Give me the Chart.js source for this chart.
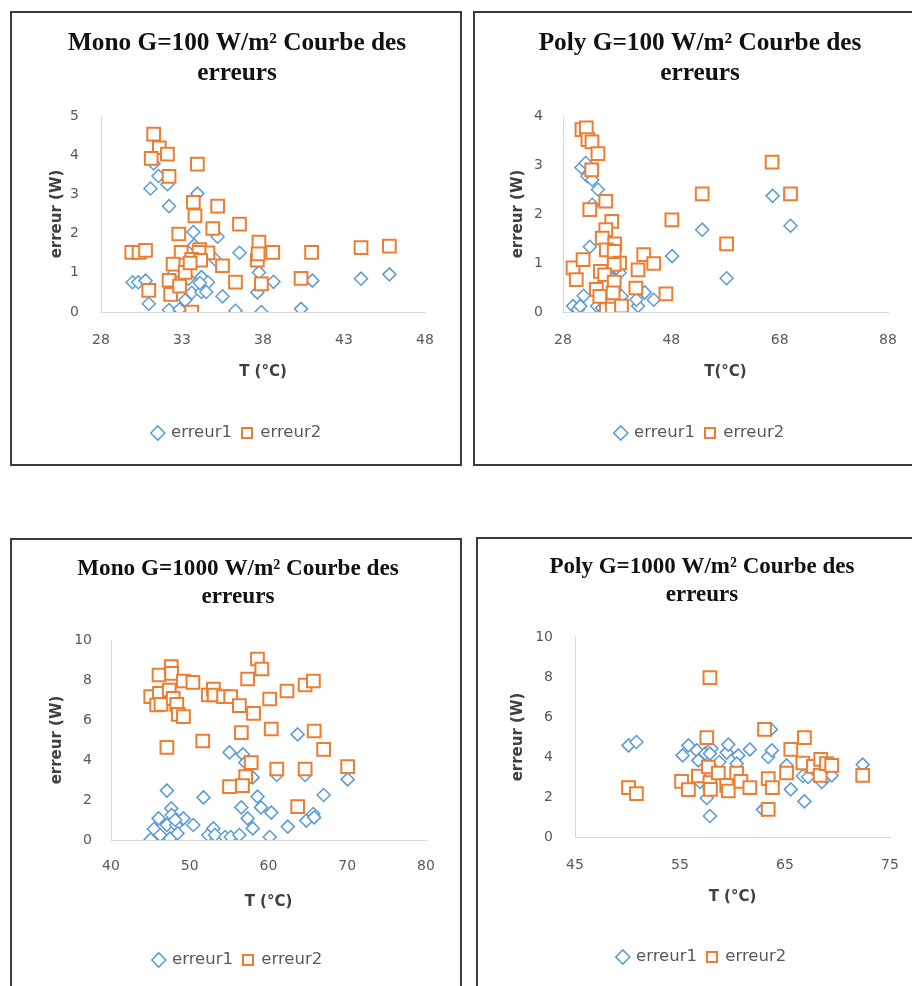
<!DOCTYPE html>
<html>
<head>
<meta charset="utf-8">
<script src="https://cdn.jsdelivr.net/npm/chart.js@4"></script>
<style>
  body { margin: 0; background: #fff; width: 912px; height: 986px; overflow: hidden; position: relative; }
  .box { position: absolute; border: 2px solid #3c3c3c; width: 448px; height: 451px; background: #fff; }
  canvas { display: block; }
</style>
</head>
<body>
<div class="box" style="left:10px; top:11px;"><canvas id="c1" width="448" height="451"></canvas></div>
<div class="box" style="left:473px; top:11px;"><canvas id="c2" width="448" height="451"></canvas></div>
<div class="box" style="left:10px; top:538px;"><canvas id="c3" width="448" height="451"></canvas></div>
<div class="box" style="left:476px; top:537px;"><canvas id="c4" width="448" height="451"></canvas></div>

<script>
// Mono G=100
const mono100_T1 = [31.25, 31.55, 32.1, 31.05, 32.2, 33.95, 33.7, 35.2, 36.55, 33.75, 29.95, 30.3, 30.75, 30.95, 32.2, 32.85, 33.2, 33.6, 34.2, 34.6, 34.2, 34.5, 34.1, 35.5, 36.3, 37.9, 37.65, 37.75, 38.65, 41.05, 40.35, 44.05, 45.8, 35.05, 32.5, 33.4];
const mono100_E1 = [3.79, 3.47, 3.26, 3.15, 2.70, 3.02, 2.04, 1.92, 1.51, 1.70, 0.76, 0.76, 0.80, 0.21, 0.05, 0.07, 0.30, 0.49, 0.89, 0.76, 0.51, 0.51, 0.74, 0.40, 0.03, 0.0, 0.50, 1.01, 0.77, 0.80, 0.08, 0.85, 0.96, 1.34, 0.98, 0.85];
const mono100_T2 = [31.25, 31.6, 32.1, 31.1, 33.95, 32.2, 33.7, 33.8, 35.2, 34.9, 36.55, 32.8, 37.75, 29.9, 30.35, 30.75, 32.95, 34.1, 34.6, 34.05, 33.6, 34.15, 32.45, 35.5, 37.65, 37.7, 38.6, 41.0, 44.05, 45.8, 33.2, 32.2, 30.95, 32.3, 32.85, 36.3, 37.9, 40.35, 33.6, 33.5];
const mono100_E2 = [4.54, 4.19, 4.03, 3.92, 3.77, 3.46, 2.80, 2.45, 2.70, 2.13, 2.24, 1.99, 1.78, 1.52, 1.52, 1.57, 1.52, 1.59, 1.51, 1.52, 1.34, 1.32, 1.22, 1.18, 1.32, 1.48, 1.52, 1.52, 1.64, 1.68, 1.01, 0.81, 0.55, 0.45, 0.66, 0.76, 0.72, 0.86, 0.0, 1.25];

// Poly G=100
const poly100_T1 = [31.4, 32.2, 32.5, 33.4, 34.45, 33.4, 32.95, 29.85, 30.75, 31.2, 31.8, 34.3, 35.25, 37.55, 38.45, 38.8, 41.85, 41.55, 43.1, 44.75, 48.15, 53.7, 58.2, 66.7, 70.0, 36.6, 37.85];
const poly100_E1 = [2.95, 3.04, 2.77, 2.70, 2.50, 2.19, 1.33, 0.12, 0.05, 0.12, 0.33, 0.12, 0.08, 0.46, 0.80, 0.32, 0.12, 0.25, 0.40, 0.25, 1.14, 1.68, 0.69, 2.37, 1.76, 0.73, 0.90];
const poly100_T2 = [31.5, 32.3, 32.6, 33.35, 34.45, 33.3, 35.9, 32.95, 37.0, 35.9, 35.25, 37.55, 36.0, 37.45, 29.85, 31.7, 30.45, 38.45, 37.45, 34.9, 35.7, 37.45, 34.15, 34.8, 37.25, 36.0, 37.1, 38.8, 41.45, 41.85, 42.9, 44.75, 47.0, 48.1, 53.7, 58.2, 66.6, 70.0];
const poly100_E2 = [3.72, 3.76, 3.52, 3.47, 3.23, 2.90, 2.26, 2.09, 1.85, 1.68, 1.51, 1.39, 1.27, 1.24, 0.90, 1.07, 0.66, 1.0, 0.97, 0.83, 0.76, 0.61, 0.46, 0.32, 0.39, 0.05, 0.06, 0.12, 0.49, 0.86, 1.17, 0.99, 0.37, 1.88, 2.41, 1.39, 3.06, 2.41];

// Mono G=1000
const mono1000_T1 = [45.05, 45.45, 46.05, 46.25, 47.1, 47.65, 47.7, 47.5, 47.1, 48.25, 48.45, 49.2, 48.15, 50.45, 51.75, 52.35, 53.0, 53.2, 54.5, 55.2, 56.3, 55.05, 56.75, 57.05, 58.0, 56.55, 57.35, 58.0, 58.6, 59.05, 60.35, 60.15, 62.45, 61.05, 63.7, 64.65, 64.8, 65.7, 65.8, 67.0, 70.05];
const mono1000_E1 = [0.03, 0.55, 1.08, 0.25, 2.47, 1.58, 1.25, 0.08, 0.75, 0.75, 0.33, 1.08, 1.0, 0.75, 2.13, 0.25, 0.58, 0.25, 0.15, 0.15, 0.25, 4.38, 4.28, 3.87, 3.13, 1.63, 1.08, 0.58, 2.17, 1.63, 1.37, 0.15, 0.67, 3.25, 5.28, 3.25, 0.97, 1.30, 1.13, 2.25, 3.03];
const mono1000_T2 = [45.05, 46.1, 47.65, 47.7, 46.15, 45.8, 46.35, 47.4, 47.9, 48.35, 48.55, 49.2, 49.2, 50.4, 47.1, 51.65, 52.35, 53.0, 53.1, 54.3, 55.2, 56.3, 58.1, 57.35, 58.6, 59.15, 60.15, 56.55, 60.35, 57.8, 57.1, 56.7, 55.05, 61.05, 62.35, 64.65, 65.7, 65.8, 67.0, 64.65, 63.7, 70.05];
const mono1000_E2 = [7.17, 8.25, 8.67, 8.33, 7.33, 6.75, 6.78, 7.5, 7.08, 6.78, 6.28, 6.17, 7.95, 7.88, 4.63, 4.95, 7.25, 7.55, 7.25, 7.17, 7.17, 6.72, 6.33, 8.05, 9.05, 8.55, 7.05, 5.37, 5.55, 3.87, 3.17, 2.72, 2.67, 3.55, 7.45, 7.75, 7.95, 5.45, 4.53, 3.55, 1.67, 3.67];

// Poly G=1000
const poly1000_T1 = [50.1, 50.85, 55.25, 55.8, 56.6, 56.75, 57.4, 58.0, 57.85, 58.75, 59.45, 59.6, 60.55, 60.4, 61.65, 57.55, 57.85, 56.9, 62.9, 63.4, 63.75, 63.65, 65.15, 65.55, 66.7, 66.85, 67.2, 68.5, 68.95, 69.45, 72.4];
const poly1000_E1 = [4.58, 4.75, 4.08, 4.58, 4.33, 3.83, 4.17, 4.42, 4.17, 3.75, 4.22, 4.62, 4.08, 3.67, 4.38, 1.95, 1.05, 2.75, 1.37, 4.0, 4.33, 5.38, 3.58, 2.38, 3.05, 1.78, 3.0, 2.75, 3.0, 3.08, 3.62];
const poly1000_T2 = [50.1, 50.85, 57.85, 57.55, 55.15, 55.8, 56.75, 57.7, 57.85, 57.9, 58.65, 59.45, 59.6, 60.4, 60.8, 61.65, 63.05, 63.4, 63.8, 63.4, 65.15, 65.55, 66.85, 66.7, 67.7, 68.4, 68.35, 68.95, 69.45, 72.4];
const poly1000_E2 = [2.47, 2.17, 7.97, 4.97, 2.78, 2.37, 3.05, 3.5, 2.72, 2.38, 3.2, 2.58, 2.3, 3.2, 2.78, 2.47, 5.38, 2.92, 2.47, 1.38, 3.2, 4.38, 4.97, 3.7, 3.53, 3.88, 3.08, 3.67, 3.58, 3.08];

const legendLabels = ['erreur1', 'erreur2'];
const yTitle = 'erreur (W)';

const AXIS_LH = 15;       // 15px * 1.0
const LEG_FONT = 16.5;
const LEG_PAD = 10;

function pontos(T, E) {
    return T.map((t, i) => ({ x: t, y: E[i] }));
}

// g = posições alvo em px dentro do canvas
function plotarErreurs(id, titulo, xTitle, xEixo, yEixo, T1, E1, T2, E2, g) {
    const canvas = document.getElementById(id);
    const W = canvas.width, H = canvas.height;
    const padRight = W - g.right;
    // centra título e legenda em g.center
    const padLeft = 2 * g.center - W + padRight;
    const legendTop = g.legendY - LEG_FONT / 2 - LEG_PAD;
    const padBottom = H - (g.legendY + 10 + LEG_FONT / 2);
    const titleLH = g.titleSize * 1.2;
    const titleTop = g.title1Y - titleLH / 2;

    new Chart(canvas.getContext('2d'), {
        type: 'scatter',
        data: {
            datasets: [{
                label: legendLabels[0],
                data: pontos(T1, E1),
                pointStyle: 'rectRot',
                pointRadius: 6.5,
                pointHoverRadius: 6.5,
                borderColor: '#5B9BD5',
                backgroundColor: '#ffffff',
                pointBorderWidth: 1.5,
                order: 1
            }, {
                label: legendLabels[1],
                data: pontos(T2, E2),
                pointStyle: 'rect',
                pointRadius: 9,
                pointHoverRadius: 9,
                borderColor: '#ED7D31',
                backgroundColor: '#ffffff',
                pointBorderWidth: 2,
                order: 0
            }]
        },
        options: {
            responsive: false,
            animation: false,
            layout: { padding: { left: padLeft, top: 0, right: padRight, bottom: padBottom } },
            plugins: {
                title: {
                    display: true,
                    text: titulo,
                    color: '#111',
                    font: { family: 'Liberation Serif', size: g.titleSize, weight: 'bold', lineHeight: 1.2 },
                    padding: { top: titleTop, bottom: g.top - titleTop - 2 * titleLH }
                },
                legend: {
                    position: 'bottom',
                    labels: {
                        usePointStyle: true,
                        boxWidth: 10,
                        boxHeight: 10,
                        padding: LEG_PAD,
                        color: '#595959',
                        font: { family: 'DejaVu Sans', size: LEG_FONT },
                        sort: (a, b) => a.datasetIndex - b.datasetIndex
                    }
                },
                tooltip: { enabled: false }
            },
            scales: {
                x: {
                    type: 'linear',
                    min: xEixo.min, max: xEixo.max,
                    grid: { display: false, drawTicks: false },
                    border: { display: true, color: '#d9d9d9', width: 1 },
                    ticks: { stepSize: xEixo.step, padding: g.xTickPad, color: '#595959', font: { family: 'DejaVu Sans', size: 14 } },
                    title: {
                        display: true,
                        text: xTitle,
                        color: '#404040',
                        font: { family: 'DejaVu Sans', size: 15, weight: 'bold', lineHeight: 1 },
                        padding: { top: 0, bottom: legendTop - g.xTitleY - AXIS_LH / 2 }
                    },
                    afterFit: (s) => { s.height = legendTop - g.bottom; }
                },
                y: {
                    type: 'linear',
                    min: yEixo.min, max: yEixo.max,
                    grid: { display: false, drawTicks: false },
                    border: { display: true, color: '#d9d9d9', width: 1 },
                    ticks: { stepSize: yEixo.step, padding: g.yTickPad, color: '#595959', font: { family: 'DejaVu Sans', size: 14 } },
                    title: {
                        display: true,
                        text: yTitle,
                        color: '#404040',
                        font: { family: 'DejaVu Sans', size: 15, weight: 'bold', lineHeight: 1 },
                        padding: { top: g.yTitleX - padLeft - AXIS_LH / 2, bottom: 0 }
                    },
                    afterFit: (s) => { s.width = g.left - padLeft; }
                }
            }
        }
    });
}

plotarErreurs('c1', ['Mono G=100 W/m² Courbe des', 'erreurs'], 'T (°C)',
    { min: 28, max: 48, step: 5 }, { min: 0, max: 5, step: 1 },
    mono100_T1, mono100_E1, mono100_T2, mono100_E2,
    { left: 89, top: 103, right: 413, bottom: 299, center: 225, titleSize: 25.3, title1Y: 30, yTitleX: 45, xTickPad: 20, yTickPad: 22, xTitleY: 359, legendY: 420 });

plotarErreurs('c2', ['Poly G=100 W/m² Courbe des', 'erreurs'], 'T(°C)',
    { min: 28, max: 88, step: 20 }, { min: 0, max: 4, step: 1 },
    poly100_T1, poly100_E1, poly100_T2, poly100_E2,
    { left: 88, top: 103, right: 413, bottom: 299, center: 225, titleSize: 25.3, title1Y: 30, yTitleX: 43, xTickPad: 20, yTickPad: 20, xTitleY: 359, legendY: 420 });

plotarErreurs('c3', ['Mono G=1000 W/m² Courbe des', 'erreurs'], 'T (°C)',
    { min: 40, max: 80, step: 10 }, { min: 0, max: 10, step: 2 },
    mono1000_T1, mono1000_E1, mono1000_T2, mono1000_E2,
    { left: 99, top: 100, right: 414, bottom: 300, center: 226, titleSize: 23.2, title1Y: 29, yTitleX: 45, xTickPad: 18, yTickPad: 19, xTitleY: 362, legendY: 420 });

plotarErreurs('c4', ['Poly G=1000 W/m² Courbe des', 'erreurs'], 'T (°C)',
    { min: 45, max: 75, step: 10 }, { min: 0, max: 10, step: 2 },
    poly1000_T1, poly1000_E1, poly1000_T2, poly1000_E2,
    { left: 97, top: 98, right: 412, bottom: 298, center: 224, titleSize: 23, title1Y: 28, yTitleX: 40, xTickPad: 20, yTickPad: 22, xTitleY: 358, legendY: 418 });
</script>
</body>
</html>
